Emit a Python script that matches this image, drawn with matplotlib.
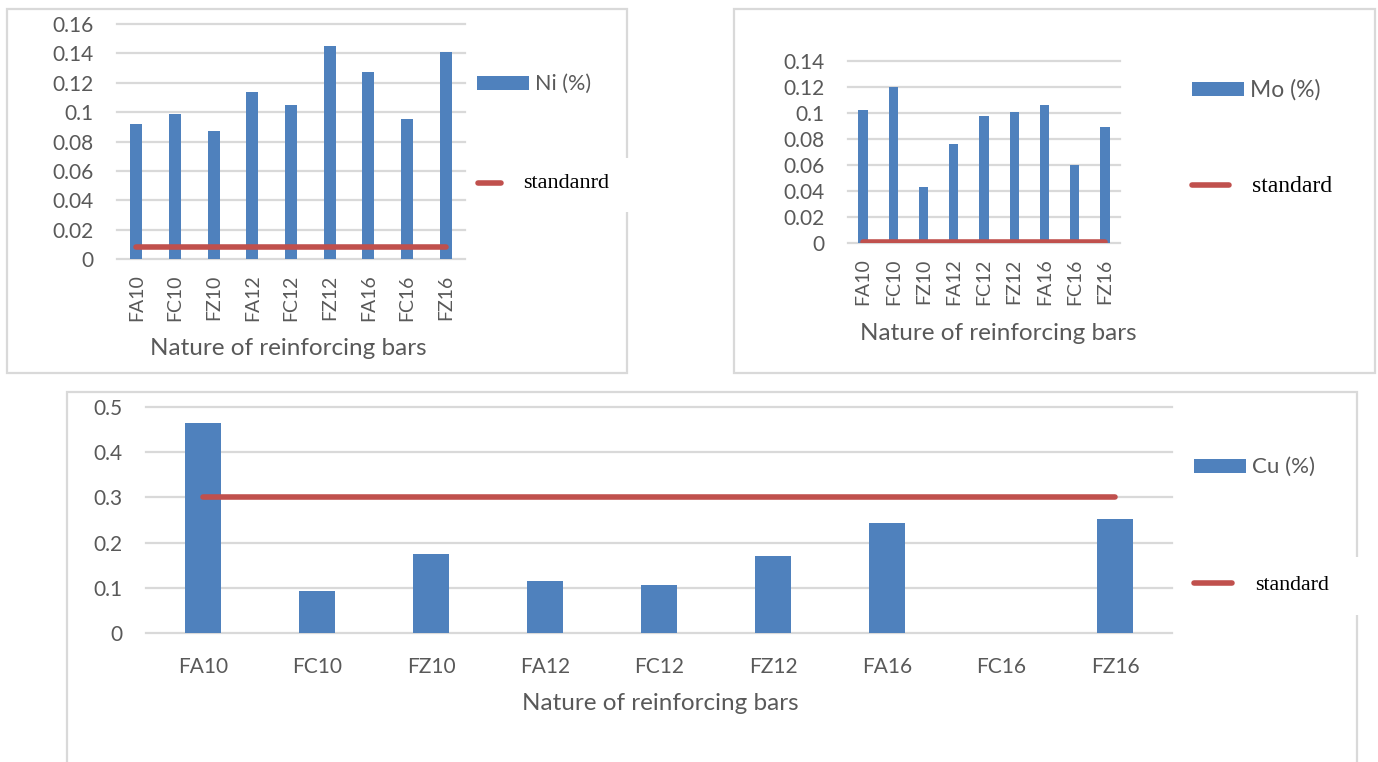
import numpy as np
import matplotlib.pyplot as plt
from matplotlib.patches import Rectangle
from matplotlib.lines import Line2D

# composition of each bar type (%), with the standard limit for each element
bars = ["FA10", "FC10", "FZ10", "FA12", "FC12", "FZ12", "FA16", "FC16", "FZ16"]
ni = [0.092, 0.099, 0.087, 0.114, 0.105, 0.145, 0.127, 0.095, 0.141]
ni_std = 0.008
mo = [0.102, 0.120, 0.043, 0.076, 0.098, 0.101, 0.106, 0.060, 0.089]
mo_std = 0.001
cu = [0.465, 0.093, 0.174, 0.116, 0.106, 0.171, 0.244, 0.0, 0.253]
cu_std = 0.3

BLUE = "#4F81BD"
RED = "#C0504D"
GRID = "#D9D9D9"
TXT = "#595959"
W, H = 1378, 762

plt.rcParams["font.family"] = ["Lato", "DejaVu Sans"]

fig = plt.figure(figsize=(W / 100, H / 100), dpi=100)


def fx(x):
    return x / W


def fy(y):
    return 1 - y / H


def frame(x0, y0, x1, y1):
    fig.patches.append(Rectangle((fx(x0), fy(y1)), fx(x1 - x0), (y1 - y0) / H,
                                 transform=fig.transFigure, fill=False,
                                 ec=GRID, lw=1.6, zorder=0))


def blank(x0, y0, x1, y1):
    fig.patches.append(Rectangle((fx(x0), fy(y1)), fx(x1 - x0), (y1 - y0) / H,
                                 transform=fig.transFigure, fc="white",
                                 ec="none", zorder=1))


def chart(ax_px, vals, std, ymax, step, name, rot, xlab_px, leg, std_label):
    x0, y0, x1, y1 = ax_px
    ax = fig.add_axes([fx(x0), fy(y1), fx(x1 - x0), (y1 - y0) / H])
    pos = np.arange(len(bars))
    ax.bar(pos, vals, width=0.31, color=BLUE, zorder=2)
    ax.plot([pos[0], pos[-1]], [std, std], color=RED, lw=4,
            solid_capstyle="round", zorder=3)
    ax.set_xlim(-0.5, len(bars) - 0.5)
    ax.set_ylim(0, ymax)
    ticks = np.round(np.arange(0, ymax + step / 2, step), 3)
    ax.set_yticks(ticks, [f"{t:g}" for t in ticks])
    ax.set_xticks(pos, bars, rotation=rot)
    ax.grid(axis="y", color=GRID, lw=1.6, zorder=0)
    for g in ax.get_ygridlines():
        g.set_clip_on(False)
    for s in ax.spines.values():
        s.set_visible(False)
    ax.tick_params(axis="y", length=0, colors=TXT, labelsize=15, pad=17)
    if rot:
        ax.tick_params(axis="x", length=0, colors=TXT, labelsize=14, pad=11)
    else:
        ax.tick_params(axis="x", length=0, colors=TXT, labelsize=15, pad=17)
    ax.set_xlabel("Nature of reinforcing bars", fontsize=17.5, color=TXT)
    ax.xaxis.set_label_coords(fx(xlab_px[0]), fy(xlab_px[1]),
                              transform=fig.transFigure)
    ax.xaxis.label.set_va("center")

    # legend entries
    (px, py, tx, tsize), (lx0, lx1, ly, sx, sy, ssize) = leg
    fig.patches.append(Rectangle((fx(px), fy(py + 7)), fx(52), 14 / H,
                                 transform=fig.transFigure, fc=BLUE, ec="none"))
    fig.text(fx(tx), fy(py + 1), name, color=TXT, fontsize=tsize, va="center")
    fig.lines.append(Line2D([fx(lx0), fx(lx1)], [fy(ly), fy(ly)],
                            transform=fig.transFigure, color=RED, lw=4,
                            solid_capstyle="round"))
    fig.text(fx(sx), fy(sy), std_label, color="black", fontsize=ssize,
             family="Liberation Serif", va="center")
    return ax


frame(7, 9, 627, 373)
frame(734, 9, 1375, 373)
frame(67, 392, 1357, 775)
blank(600, 158, 632, 212)
blank(1340, 557, 1362, 615)

chart((117, 24, 465, 259), ni, ni_std, 0.16, 0.02, "Ni (%)", 90, (288, 348),
      ((477, 83, 535, 15.5), (478, 501, 183, 523, 184, 16)), "standanrd")
chart((848, 61, 1120, 243), mo, mo_std, 0.14, 0.02, "Mo (%)", 90, (998, 333),
      ((1192, 89, 1250, 16.5), (1192, 1229, 185, 1252, 186, 17)), "standard")
chart((146, 407, 1172, 633), cu, cu_std, 0.5, 0.1, "Cu (%)", 0, (660, 703),
      ((1194, 466, 1252, 16), (1194, 1232, 583, 1255, 585, 15.8)), "standard")

fig.savefig("out.png", dpi=100)
